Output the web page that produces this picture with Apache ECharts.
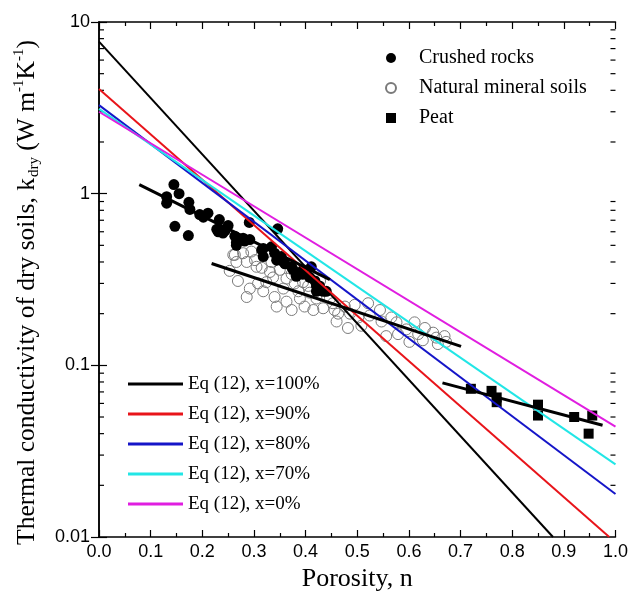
<!DOCTYPE html>
<html>
<head>
<meta charset="utf-8">
<script src="https://cdn.jsdelivr.net/npm/echarts@6/dist/echarts.min.js"></script>
<style>
  html, body { margin: 0; padding: 0; background: #fff; }
  #chart { width: 631px; height: 599px; }
</style>
</head>
<body>
<div id="chart"></div>
<script>
// measured data (porosity n, k_dry in W/mK)
const crushedRocks = [
  [0.131, 0.96], [0.131, 0.88], [0.145, 1.13], [0.155, 1.0], [0.147, 0.645], [0.173, 0.57],
  [0.174, 0.89], [0.176, 0.81], [0.195, 0.755], [0.202, 0.73], [0.211, 0.77], [0.228, 0.62],
  [0.231, 0.60], [0.233, 0.706], [0.240, 0.59], [0.244, 0.61], [0.250, 0.652], [0.263, 0.565],
  [0.266, 0.50], [0.266, 0.52], [0.279, 0.55], [0.282, 0.53], [0.291, 0.68], [0.292, 0.54],
  [0.315, 0.47], [0.318, 0.43], [0.318, 0.48], [0.334, 0.49], [0.340, 0.45], [0.344, 0.41],
  [0.346, 0.624], [0.353, 0.43], [0.357, 0.40], [0.360, 0.39], [0.373, 0.375], [0.376, 0.36],
  [0.382, 0.33], [0.395, 0.36], [0.395, 0.34], [0.408, 0.325], [0.411, 0.375], [0.418, 0.31],
  [0.421, 0.29], [0.427, 0.29], [0.421, 0.27], [0.434, 0.27], [0.440, 0.27]
];
const naturalSoils = [
  [0.253, 0.355], [0.260, 0.44], [0.263, 0.44], [0.266, 0.40], [0.269, 0.31], [0.279, 0.45],
  [0.286, 0.40], [0.286, 0.25], [0.292, 0.28], [0.295, 0.46], [0.302, 0.41], [0.305, 0.375],
  [0.308, 0.30], [0.315, 0.37], [0.318, 0.27], [0.324, 0.305], [0.331, 0.35], [0.334, 0.40],
  [0.337, 0.325], [0.340, 0.25], [0.344, 0.22], [0.350, 0.36], [0.357, 0.28], [0.363, 0.32],
  [0.363, 0.235], [0.373, 0.34], [0.373, 0.21], [0.379, 0.30], [0.386, 0.27], [0.389, 0.245],
  [0.392, 0.34], [0.395, 0.305], [0.398, 0.22], [0.405, 0.29], [0.408, 0.265], [0.415, 0.21],
  [0.421, 0.245], [0.428, 0.31], [0.434, 0.215], [0.447, 0.245], [0.453, 0.23], [0.456, 0.21],
  [0.460, 0.18], [0.463, 0.20], [0.476, 0.22], [0.482, 0.165], [0.486, 0.20], [0.495, 0.225],
  [0.502, 0.19], [0.508, 0.17], [0.521, 0.23], [0.524, 0.195], [0.544, 0.21], [0.547, 0.18],
  [0.556, 0.148], [0.566, 0.19], [0.576, 0.178], [0.579, 0.152], [0.595, 0.162], [0.601, 0.137],
  [0.611, 0.178], [0.618, 0.152], [0.627, 0.14], [0.631, 0.165], [0.647, 0.155], [0.653, 0.145],
  [0.656, 0.133], [0.669, 0.148], [0.672, 0.137]
];
const peat = [
  [0.720, 0.073], [0.760, 0.071], [0.770, 0.065], [0.770, 0.061], [0.850, 0.059],
  [0.850, 0.051], [0.920, 0.050], [0.955, 0.051], [0.948, 0.040]
];

// fitted lines through each group
const rockFit = [[0.078, 1.13], [0.447, 0.316]];
const soilFit = [[0.218, 0.392], [0.701, 0.129]];
const peatFit = [[0.665, 0.079], [0.975, 0.0448]];

// Eq (12) curves
const eq100 = [[0, 7.68], [0.879, 0.01]];
const eq90 = [[0, 4.07], [0.988, 0.01]];
const eq80 = [[0, 3.28], [1, 0.0178]];
const eq70 = [[0, 3.12], [1, 0.0265]];
const eq0 = [[0, 3.0], [1, 0.044]];

const eqNames = ['Eq (12), x=100%', 'Eq (12), x=90%', 'Eq (12), x=80%', 'Eq (12), x=70%', 'Eq (12), x=0%'];
const eqColors = ['#000000', '#e8141a', '#1515c8', '#22e6e6', '#e01ee0'];

// log minor ticks (2..9 of each decade)
const minorTickValues = [
  0.02, 0.03, 0.04, 0.05, 0.06, 0.07, 0.08, 0.09,
  0.2, 0.3, 0.4, 0.5, 0.6, 0.7, 0.8, 0.9,
  2, 3, 4, 5, 6, 7, 8, 9
];

const chart = echarts.init(document.getElementById('chart'));

const serif = 'Liberation Serif';
const sans = 'Liberation Sans';
const axisLine = { lineStyle: { color: '#000', width: 1.5 } };

function eqSeries(name, data, color) {
  return {
    name: name, type: 'line', data: data, symbol: 'none',
    lineStyle: { color: color, width: 2 }, itemStyle: { color: color }, z: 3
  };
}
function fitSeries(data) {
  return {
    name: 'fit', type: 'line', data: data, symbol: 'none',
    lineStyle: { color: '#000', width: 3 }, z: 4
  };
}

let option = {
  animation: false,
  grid: { left: 99, top: 22, width: 517, height: 515 },
  legend: [
    {
      data: ['Crushed rocks', 'Natural mineral soils', 'Peat'],
      orient: 'vertical', left: 380, top: 43,
      itemWidth: 10, itemHeight: 10, itemGap: 10,
      textStyle: { fontFamily: serif, fontSize: 20, color: '#000', lineHeight: 20, padding: [0, 0, 0, 18] }
    },
    {
      data: eqNames.map(n => ({ name: n, icon: 'rect' })),
      orient: 'vertical', left: 123, top: 369,
      itemWidth: 55, itemHeight: 3, itemGap: 10,
      textStyle: { fontFamily: serif, fontSize: 19, color: '#000', lineHeight: 20 }
    }
  ],
  xAxis: [
    {
      type: 'value', min: 0, max: 1, interval: 0.1, position: 'bottom',
      axisLine: axisLine,
      axisTick: { inside: true, length: 7, lineStyle: { color: '#000', width: 1.2 } },
      minorTick: { show: true, splitNumber: 2, length: 4, lineStyle: { color: '#000', width: 1.2 } },
      splitLine: { show: false },
      axisLabel: { fontFamily: sans, fontSize: 18, color: '#000', margin: 6, formatter: v => v.toFixed(1) },
      name: 'Porosity, n', nameLocation: 'middle', nameGap: 28,
      nameTextStyle: { fontFamily: serif, fontSize: 26, color: '#000' }
    },
    {
      type: 'value', min: 0, max: 1, interval: 0.1, position: 'top',
      axisLine: axisLine,
      axisTick: { inside: true, length: 7, lineStyle: { color: '#000', width: 1.2 } },
      minorTick: { show: true, splitNumber: 2, length: 4, lineStyle: { color: '#000', width: 1.2 } },
      splitLine: { show: false },
      axisLabel: { show: false }
    }
  ],
  yAxis: [
    {
      type: 'log', logBase: 10, min: 0.01, max: 10, position: 'left',
      axisLine: axisLine,
      axisTick: { inside: true, length: 8, lineStyle: { color: '#000', width: 1.2 } },
      splitLine: { show: false },
      axisLabel: { fontFamily: sans, fontSize: 18, color: '#000', margin: 9, formatter: v => String(Number(v.toPrecision(3))) },
      name: '{t|Thermal conductivity of dry soils, k}{s|dry}{t| (W m}{p|-1}{t|K}{p|-1}{t|)}',
      nameLocation: 'middle', nameGap: 57,
      nameTextStyle: {
        padding: [0, 26, 0, 0],
        rich: {
          t: { fontFamily: serif, fontSize: 25.5, color: '#000', lineHeight: 30, verticalAlign: 'middle' },
          s: { fontFamily: serif, fontSize: 15, color: '#000', lineHeight: 30, verticalAlign: 'bottom', padding: [0, 0, 0, 1] },
          p: { fontFamily: serif, fontSize: 15, color: '#000', lineHeight: 30, verticalAlign: 'top' }
        }
      }
    },
    {
      type: 'log', logBase: 10, min: 0.01, max: 10, position: 'right',
      axisLine: axisLine,
      axisTick: { inside: true, length: 8, lineStyle: { color: '#000', width: 1.2 } },
      splitLine: { show: false },
      axisLabel: { show: false }
    }
  ],
  series: [
    {
      name: 'minor ticks', type: 'custom', silent: true, clip: false,
      data: minorTickValues.map(v => [0, v]),
      renderItem: function (params, api) {
        const y = api.coord([0, api.value(1)])[1];
        const cs = params.coordSys;
        const st = { stroke: '#000', lineWidth: 1.2 };
        return {
          type: 'group', children: [
            { type: 'line', shape: { x1: cs.x, y1: y, x2: cs.x + 5, y2: y }, style: st },
            { type: 'line', shape: { x1: cs.x + cs.width, y1: y, x2: cs.x + cs.width - 5, y2: y }, style: st }
          ]
        };
      }
    },
    {
      name: 'Natural mineral soils', type: 'scatter', data: naturalSoils,
      symbol: 'circle', symbolSize: 11,
      itemStyle: { color: 'rgba(255,255,255,0)', borderColor: '#7a7a7a', borderWidth: 1, opacity: 1 }, z: 2
    },
    {
      name: 'Crushed rocks', type: 'scatter', data: crushedRocks,
      symbol: 'circle', symbolSize: 11, itemStyle: { color: '#000', opacity: 1 }, z: 2
    },
    {
      name: 'Peat', type: 'scatter', data: peat,
      symbol: 'rect', symbolSize: 10, itemStyle: { color: '#000', opacity: 1 }, z: 2
    },
    eqSeries(eqNames[0], eq100, eqColors[0]),
    eqSeries(eqNames[1], eq90, eqColors[1]),
    eqSeries(eqNames[2], eq80, eqColors[2]),
    eqSeries(eqNames[3], eq70, eqColors[3]),
    eqSeries(eqNames[4], eq0, eqColors[4]),
    fitSeries(rockFit),
    fitSeries(soilFit),
    fitSeries(peatFit)
  ]
};

chart.setOption(option);
</script>
</body>
</html>
